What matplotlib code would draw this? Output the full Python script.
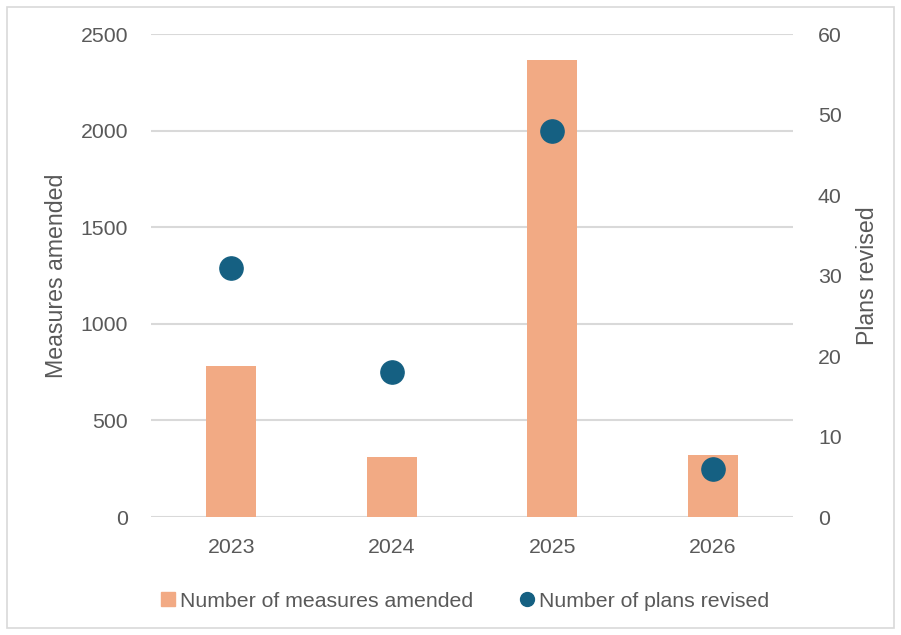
import matplotlib.pyplot as plt
from matplotlib.patches import Rectangle
from matplotlib.lines import Line2D

years = ["2023", "2024", "2025", "2026"]
measures_amended = [780, 310, 2370, 320]
plans_revised = [31, 18, 48, 6]

left_ticks = [0, 500, 1000, 1500, 2000, 2500]
right_ticks = [0, 10, 20, 30, 40, 50, 60]

bar_color = "#F2AA84"
dot_color = "#156082"
text_color = "#595959"
grid_color = "#D9D9D9"

plt.rcParams['font.family'] = ['Liberation Sans', 'DejaVu Sans']

fig = plt.figure(figsize=(9.01, 6.35), dpi=100)
ax = fig.add_axes([0.1676, 0.1858, 0.7124, 0.76])
ax2 = ax.twinx()

x = range(len(years))
ax.bar(x, measures_amended, width=0.31, color=bar_color, zorder=2)
ax.set_xlim(-0.5, len(years) - 0.5)
ax.set_ylim(0, 2500)
ax.set_yticks(left_ticks)
ax.yaxis.grid(True, color=grid_color, linewidth=1.5, zorder=0)
ax.set_axisbelow(True)

ax2.scatter(x, plans_revised, s=280, color=dot_color, zorder=3)
ax2.set_ylim(0, 60)
ax2.set_yticks(right_ticks)

ax.set_xticks(list(x))
ax.set_xticklabels(years)

for a in (ax, ax2):
    for side in ("top", "left", "right", "bottom"):
        a.spines[side].set_visible(False)
    a.tick_params(length=0, labelsize=15.3, colors=text_color)

ax.tick_params(axis="y", pad=16.5)
ax2.tick_params(axis="y", pad=18)
ax.tick_params(axis="x", pad=15)

ax.set_ylabel("Measures amended", fontsize=16.7, color=text_color, labelpad=9)
ax2.set_ylabel("Plans revised", fontsize=16.7, color=text_color, labelpad=10)

handles = [
    Line2D([], [], marker="s", linestyle="", color=bar_color, markersize=10),
    Line2D([], [], marker="o", linestyle="", color=dot_color, markersize=10),
]
fig.legend(handles, ["Number of measures amended", "Number of plans revised"],
           loc="center", bbox_to_anchor=(0.516, 0.0535), ncol=2, frameon=False,
           fontsize=15.3, labelcolor=text_color, handletextpad=0.2,
           columnspacing=2.2, handlelength=0.7)

fig.patches.append(Rectangle((0.008, 0.011), 0.984, 0.978, transform=fig.transFigure,
                             fill=False, edgecolor=grid_color, linewidth=1.2))

fig.savefig("out.png", dpi=100)
